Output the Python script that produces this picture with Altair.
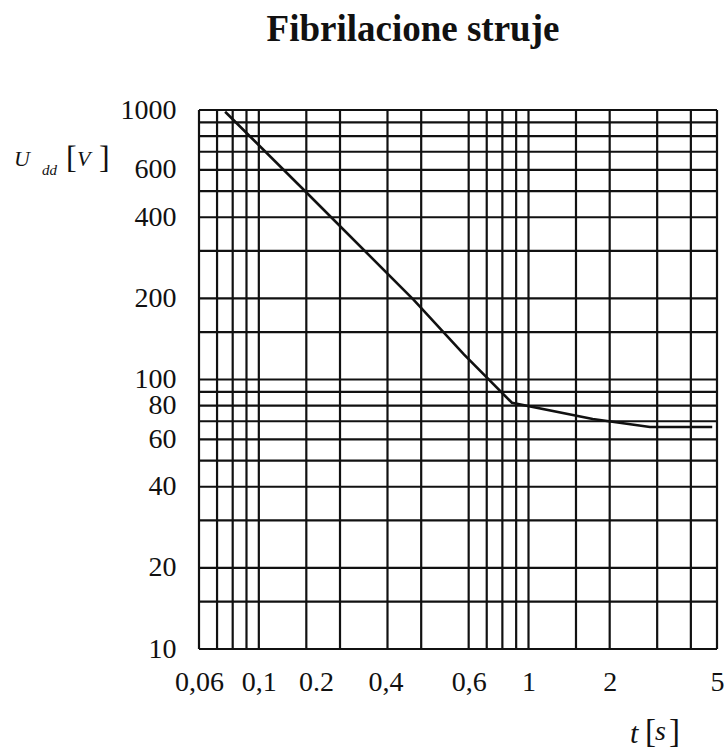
import altair as alt
import pandas as pd

# ---- data ----
curve_t = [0.075, 0.147, 0.376, 0.576, 0.868, 1.73, 2.82, 4.8]
curve_u = [985, 505, 197, 124, 82, 71.3, 66.6, 66.6]

grid_t = [0.06, 0.07, 0.08, 0.09, 0.1, 0.15, 0.2, 0.3, 0.4, 0.6, 0.7, 0.8, 0.9,
          1, 1.5, 2, 3, 4, 5]
grid_u = [10, 15, 20, 30, 40, 50, 60, 70, 80, 90, 100, 150, 200, 300, 400, 500,
          600, 700, 800, 900, 1000]

# x tick labels as printed, at the places where the original prints them
x_tick_at = [0.06, 0.1, 0.163, 0.295, 0.6, 1, 2, 5]
x_tick_text = ["0,06", "0,1", "0.2", "0,4", "0,6", "1", "2", "5"]

y_tick_at = [10, 20, 40, 60, 80, 100, 200, 400, 600, 1000]

FONT = "Liberation Serif"
INK = "#111111"

W, H = 518, 539
PAD_L, PAD_T = 199, 110

xscale = alt.Scale(type="log", domain=[0.06, 5], nice=False)
yscale = alt.Scale(type="log", domain=[10, 1000], nice=False)

label_expr = " : ".join(
    f"datum.value == {v} ? '{s}'" for v, s in zip(x_tick_at, x_tick_text)
) + " : ''"

xaxis = alt.Axis(title=None, values=x_tick_at, labelExpr=label_expr, grid=False,
                 domain=False, ticks=False, tickSize=0, labelFlush=False,
                 labelFont=FONT, labelFontSize=28, labelColor=INK,
                 labelPadding=19, labelOverlap=False)
yaxis = alt.Axis(title=None, values=y_tick_at, format="d", grid=False,
                 domain=False, ticks=False, tickSize=0, labelFont=FONT,
                 labelFontSize=28, labelColor=INK, labelPadding=23,
                 labelOverlap=False, labelBaseline="middle")

curve_df = pd.DataFrame({"t": curve_t, "u": curve_u})
gx_df = pd.DataFrame({"t": grid_t})
gy_df = pd.DataFrame({"u": grid_u})

vgrid = alt.Chart(gx_df).mark_rule(color=INK, strokeWidth=2.2).encode(
    x=alt.X("t:Q", scale=xscale, axis=xaxis)
)
hgrid = alt.Chart(gy_df).mark_rule(color=INK, strokeWidth=2.2).encode(
    y=alt.Y("u:Q", scale=yscale, axis=yaxis)
)
line = alt.Chart(curve_df).mark_line(color=INK, strokeWidth=2.6).encode(
    x=alt.X("t:Q", scale=xscale, axis=xaxis),
    y=alt.Y("u:Q", scale=yscale, axis=yaxis),
    order=alt.Order("t:Q"),
)

one = pd.DataFrame({"k": [0]})


def txt(s, px, py, size, style="normal", weight="normal", align="left"):
    return alt.Chart(one).mark_text(
        text=s, font=FONT, fontSize=size, fontStyle=style, fontWeight=weight,
        align=align, baseline="alphabetic", color=INK
    ).encode(x=alt.value(px - PAD_L), y=alt.value(py - PAD_T))


annotations = [
    txt("Fibrilacione struje", 413, 41, 37, weight="bold", align="center"),
    # y-axis title  U_dd [V]
    txt("U", 14, 166, 22, style="italic"),
    txt("dd", 42, 175, 15, style="italic"),
    txt("[", 66, 168, 32),
    txt("V", 77, 166, 22, style="italic"),
    txt("]", 99, 168, 32),
    # x-axis title  t [s]
    txt("t", 630, 743, 30, style="italic"),
    txt("[", 645, 742, 33),
    txt("s", 655, 740, 28, style="italic"),
    txt("]", 669, 742, 33),
]

chart = alt.layer(vgrid, hgrid, line, *annotations).properties(
    width=W, height=H,
    autosize=alt.AutoSizeParams(type="none"),
    padding={"left": PAD_L, "top": PAD_T, "right": 728 - PAD_L - W,
             "bottom": 748 - PAD_T - H},
    background="white",
).configure_view(stroke=None)

chart.save("out.html", embed_options={"renderer": "svg", "actions": False})
